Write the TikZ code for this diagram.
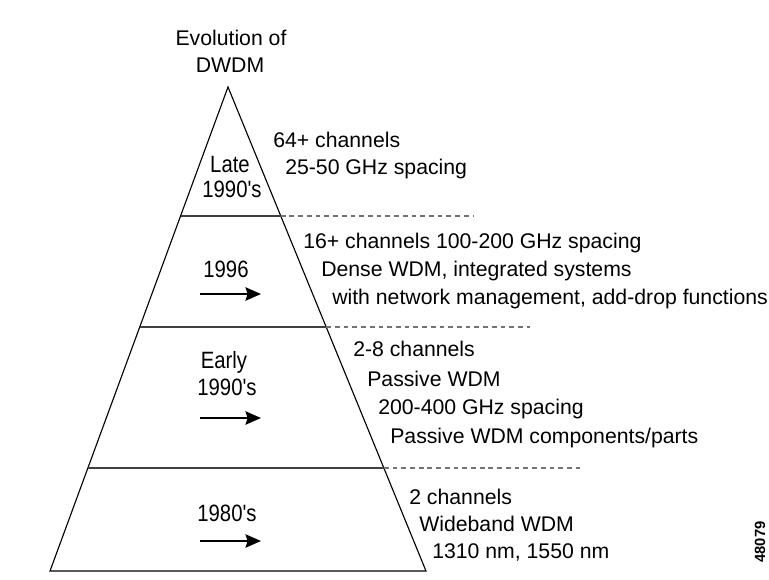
\documentclass[tikz,border=0pt]{standalone}
\usepackage{fontspec}
\setmainfont{Liberation Sans}
\newfontfamily\narrowfont{Liberation Sans}[FakeStretch=0.86]
\usetikzlibrary{arrows.meta, calc, positioning}

\begin{document}
\begin{tikzpicture}[x=0.025cm, y=-0.025cm, >={Stealth[length=11pt, width=9.5pt, inset=1.5pt]},
  label/.style={inner sep=0pt, font=\fontsize{15.1}{18}\selectfont},
  era/.style={inner sep=0pt, anchor=base, font=\narrowfont\fontsize{16.8}{18}\selectfont},
  level/.style={draw=black!75, line width=1.1pt},
  guide/.style={draw=black!55, line width=0.9pt, dash pattern=on 3.4pt off 2.8pt},
  trend/.style={->, line width=1.4pt}]

  % --- FRAME ---
  \useasboundingbox (0,0) rectangle (769,579);

  % --- PYRAMID ---
  \coordinate (apex) at (228,87);
  \coordinate (bl) at (50,571);
  \coordinate (br) at (426,571);
  \draw[line width=0.8pt, line join=miter] (apex) -- (bl) -- (br) -- cycle;

  % Title above the apex
  \node[label, anchor=base] (title1) at (231,45) {Evolution of};
  \node[label, anchor=base] (title2) at (230,72) {DWDM};

  % --- LEVELS (solid inside, dashed outside) ---
  % fraction along the edges / end of the dashed guide
  \foreach \t/\xend [count=\i] in {0.2665/473, 0.4959/530, 0.7872/582} {
    \coordinate (L\i) at ($(apex)!\t!(bl)$);
    \coordinate (R\i) at ($(apex)!\t!(br)$);
    \coordinate (G\i) at (\xend, 0 |- R\i);
    \draw[level] (L\i) -- (R\i);
    \draw[guide] (R\i) -- (G\i);
  }

  % --- ERAS (inside the pyramid) ---
  \node[era] (late)   at (230,172) {Late};
  \node[era] (late2)  at (232,197) {1990's};
  \node[era] (y1996)  at (226,277) {1996};
  \node[era] (early)  at (224,368) {Early};
  \node[era] (early2) at (227,395) {1990's};
  \node[era] (y1980)  at (227,521) {1980's};

  % Arrows under the eras
  \foreach \y [count=\i] in {294, 418, 541} {
    \coordinate (as\i) at (200,\y);
    \coordinate (ae\i) at (261,\y);
    \draw[trend] (as\i) -- (ae\i);
  }

  % --- DESCRIPTIONS (stepped lines to the right) ---
  \foreach \x/\y/\txt [count=\i] in {
      273/147/{64+ channels},
      285/174/{25-50 GHz spacing},
      303/248/{16+ channels 100-200 GHz spacing},
      321/276/{Dense WDM, integrated systems},
      332/304/{with network management, add-drop functions},
      353/356/{2-8 channels},
      367/386/{Passive WDM},
      378/414/{200-400 GHz spacing},
      390/443/{Passive WDM components/parts},
      409/504/{2 channels},
      419/531/{Wideband WDM},
      432/558/{1310 nm, 1550 nm}} {
    \node[label, anchor=base west] (d\i) at (\x,\y) {\txt};
  }

  % Figure number
  \node[rotate=90, inner sep=0pt, font=\bfseries\fontsize{10.5}{12}\selectfont] (fignum) at (760,542) {48079};

\end{tikzpicture}
\end{document}
